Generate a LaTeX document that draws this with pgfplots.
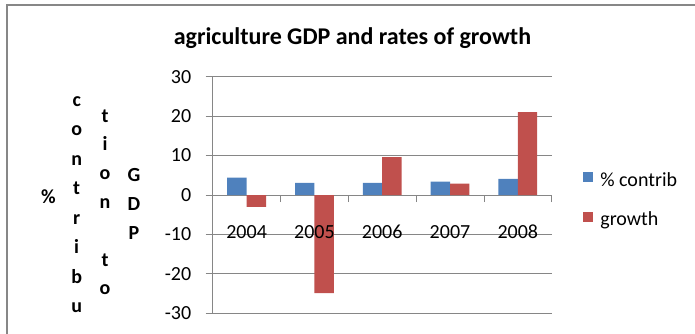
\documentclass[border=0pt]{standalone}
\usepackage{fontspec}
\setmainfont{Carlito}
\usepackage{pgfplots}
\pgfplotsset{compat=1.18}
\definecolor{exblue}{HTML}{4F81BD}
\definecolor{exred}{HTML}{C0504D}
\definecolor{gridgray}{HTML}{868686}
\definecolor{framegray}{HTML}{878787}
\pgfplotsset{
  common/.style={
    at={(212.7bp,20.7bp)}, anchor=south west,
    scale only axis, width=339bp, height=236.6bp,
    xmin=-0.5, xmax=4.5, ymin=-30, ymax=30,
    axis x line=middle, axis y line=left,
    hide obscured x ticks=false, hide obscured y ticks=false,
    xtick={0,...,4},
    /pgf/number format/assume math mode=true,
    tick label style={font=\fontsize{20bp}{24bp}\selectfont, text=black},
    xticklabel style={anchor=base, yshift=-41bp},
  }
}
\begin{document}
\begin{tikzpicture}
\path[use as bounding box] (0,0) rectangle (695bp,334bp);
\draw[framegray, line width=2bp] (7bp,0) -- (7bp,329bp) -- (695bp,329bp);
\node[anchor=base, inner sep=0pt, font=\bfseries\fontsize{24bp}{28bp}\selectfont] at (352.5bp,289bp) {agriculture GDP and rates of growth};
\begin{scope}[every node/.style={anchor=base, inner sep=0pt, font=\bfseries\fontsize{20bp}{24bp}\selectfont}]
\node at (48.3bp,130.8bp) {\%};
\foreach \l [count=\k from 0] in {c,o,n,t,r,i,b,u} {
  \node at (76.7bp,{(227.6-29.5*\k)*1bp}) {\l};
}
\foreach \l/\k in {t/0,i/1,o/2,n/3,t/5,o/6} {
  \node at (105bp,{(212-28.8*\k)*1bp}) {\l};
}
\foreach \l [count=\k from 0] in {G,D,P} {
  \node at (134bp,{(152.6-29*\k)*1bp}) {\l};
}
\end{scope}
\begin{axis}[
  common,
  axis line style={-, draw=gridgray, line width=0.8bp},
  ytick={-30,-20,...,30},
  xticklabels={},
  minor xtick={-0.5,0.5,...,4.5},
  major x tick style={draw=none},
  minor tick length=7bp, major tick length=7bp,
  tick align=outside,
  tick style={gridgray, line width=0.8bp},
  ymajorgrids, major grid style={gridgray, line width=0.8bp},
  yticklabel style={anchor=east, xshift=-11bp},
  ybar=0pt, bar width=19.4bp,
  legend style={draw=none, fill=none, at={(1.084,0.479)}, anchor=west,
    font=\fontsize{20bp}{24bp}\selectfont, row sep=20bp, column sep=5bp},
  legend cell align=left,
  legend image code/.code={\fill[#1] (0bp,-2bp) rectangle (10bp,8bp);},
]
\addplot[fill=exblue, draw=none] coordinates {(0,4.4) (1,3.1) (2,3.1) (3,3.4) (4,4.1)};
\addplot[fill=exred, draw=none] coordinates {(0,-3.0) (1,-24.9) (2,9.6) (3,2.9) (4,21.0)};
\legend{\% contrib, growth}
\end{axis}
\begin{axis}[
  common,
  axis line style={draw=none},
  tick style={draw=none},
  ytick=\empty,
  xticklabels={2004,2005,2006,2007,2008},
]
\addplot[draw=none, forget plot] coordinates {(0,0) (4,0)};
\end{axis}
\end{tikzpicture}
\end{document}
